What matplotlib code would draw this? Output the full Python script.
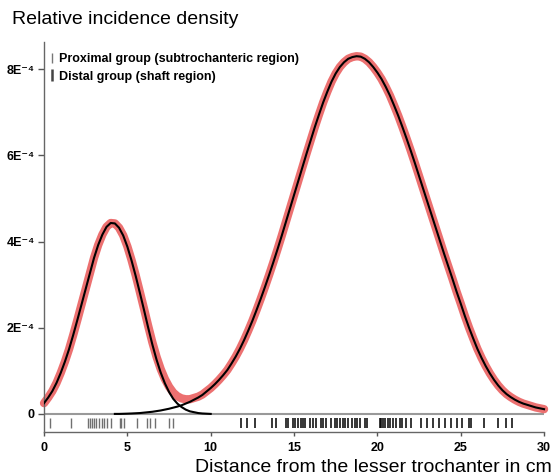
import matplotlib
matplotlib.use("Agg")
import matplotlib.pyplot as plt
from matplotlib.lines import Line2D
import numpy as np

plt.rcParams['font.family'] = ['Liberation Sans', 'DejaVu Sans']

# distance grid (cm) and densities, in units of 1E-4
dist_cm = [0.0, 0.25, 0.5, 0.75, 1.0, 1.25, 1.5, 1.75,
           2.0, 2.25, 2.5, 2.75, 3.0, 3.25, 3.5, 3.75,
           4.0, 4.25, 4.5, 4.75, 5.0, 5.25, 5.5, 5.75,
           6.0, 6.25, 6.5, 6.75, 7.0, 7.25, 7.5, 7.75,
           8.0, 8.25, 8.5, 8.75, 9.0, 9.25, 9.5, 9.75,
           10.0, 10.25, 10.5, 10.75, 11.0, 11.25, 11.5, 11.75,
           12.0, 12.25, 12.5, 12.75, 13.0, 13.25, 13.5, 13.75,
           14.0, 14.25, 14.5, 14.75, 15.0, 15.25, 15.5, 15.75,
           16.0, 16.25, 16.5, 16.75, 17.0, 17.25, 17.5, 17.75,
           18.0, 18.25, 18.5, 18.75, 19.0, 19.25, 19.5, 19.75,
           20.0, 20.25, 20.5, 20.75, 21.0, 21.25, 21.5, 21.75,
           22.0, 22.25, 22.5, 22.75, 23.0, 23.25, 23.5, 23.75,
           24.0, 24.25, 24.5, 24.75, 25.0, 25.25, 25.5, 25.75,
           26.0, 26.25, 26.5, 26.75, 27.0, 27.25, 27.5, 27.75,
           28.0, 28.25, 28.5, 28.75, 29.0, 29.25, 29.5, 29.75,
           30.0]

proximal_density = [0.25, 0.38, 0.53, 0.72, 0.95, 1.21, 1.50, 1.83,
                    2.18, 2.54, 2.90, 3.26, 3.62, 3.92, 4.16, 4.34,
                    4.43, 4.42, 4.32, 4.14, 3.88, 3.56, 3.20, 2.81,
                    2.41, 2.00, 1.61, 1.26, 0.96, 0.71, 0.51, 0.35,
                    0.24, 0.16, 0.10, 0.06, 0.04, 0.02, 0.01, 0.005,
                    0.0, 0.0, 0.0, 0.0, 0.0, 0.0, 0.0, 0.0,
                    0.0, 0.0, 0.0, 0.0, 0.0, 0.0, 0.0, 0.0,
                    0.0, 0.0, 0.0, 0.0, 0.0, 0.0, 0.0, 0.0,
                    0.0, 0.0, 0.0, 0.0, 0.0, 0.0, 0.0, 0.0,
                    0.0, 0.0, 0.0, 0.0, 0.0, 0.0, 0.0, 0.0,
                    0.0, 0.0, 0.0, 0.0, 0.0, 0.0, 0.0, 0.0,
                    0.0, 0.0, 0.0, 0.0, 0.0, 0.0, 0.0, 0.0,
                    0.0, 0.0, 0.0, 0.0, 0.0, 0.0, 0.0, 0.0,
                    0.0, 0.0, 0.0, 0.0, 0.0, 0.0, 0.0, 0.0,
                    0.0, 0.0, 0.0, 0.0, 0.0, 0.0, 0.0, 0.0,
                    0.0]

distal_density = [0.0, 0.0, 0.0, 0.0, 0.0, 0.0, 0.0, 0.0,
                  0.0, 0.0, 0.0, 0.0, 0.0, 0.0, 0.0, 0.0,
                  0.0, 0.0, 0.0, 0.003, 0.006, 0.01, 0.015, 0.02,
                  0.03, 0.04, 0.05, 0.065, 0.08, 0.10, 0.12, 0.145,
                  0.17, 0.20, 0.24, 0.28, 0.33, 0.38, 0.44, 0.52,
                  0.60, 0.69, 0.79, 0.90, 1.02, 1.17, 1.33, 1.51,
                  1.71, 1.93, 2.16, 2.41, 2.67, 2.94, 3.22, 3.51,
                  3.81, 4.12, 4.44, 4.76, 5.08, 5.40, 5.72, 6.04,
                  6.35, 6.66, 6.95, 7.23, 7.48, 7.71, 7.90, 8.05,
                  8.16, 8.24, 8.28, 8.30, 8.29, 8.24, 8.16, 8.05,
                  7.92, 7.77, 7.59, 7.39, 7.16, 6.92, 6.66, 6.39,
                  6.11, 5.82, 5.52, 5.22, 4.92, 4.62, 4.32, 4.02,
                  3.72, 3.43, 3.14, 2.84, 2.56, 2.27, 2.00, 1.75,
                  1.51, 1.30, 1.11, 0.94, 0.79, 0.66, 0.55, 0.46,
                  0.39, 0.33, 0.28, 0.24, 0.21, 0.18, 0.15, 0.13,
                  0.11]

# individual cases (rug)
proximal_cases = [0.36, 1.6, 2.64, 2.74, 2.88, 3.0, 3.14, 3.3, 3.48, 3.58,
                  3.8, 4.04, 4.54, 4.64, 4.78, 5.56, 6.18, 6.38, 6.64, 7.5,
                  7.74]
distal_cases = [11.84, 12.2, 12.64, 13.68, 13.94, 14.54, 14.64, 14.94, 15.08,
                15.24, 15.4, 15.54, 15.68, 15.94, 16.14, 16.34, 16.6, 16.74,
                16.94, 17.24, 17.44, 17.6, 17.78, 17.92, 18.04, 18.24, 18.48,
                18.64, 18.8, 18.94, 19.24, 19.4, 20.14, 20.24, 20.34, 20.44,
                20.64, 20.78, 20.94, 21.14, 21.34, 21.5, 21.7, 22.04, 22.64,
                22.98, 23.34, 23.72, 24.08, 24.44, 24.78, 25.1, 25.5, 25.64,
                26.4, 27.24, 27.7, 28.1]

xticks = [0, 5, 10, 15, 20, 25, 30]
yticks = [0, 2, 4, 6, 8]
ytick_labels = ['0', '2E⁻⁴', '4E⁻⁴', '6E⁻⁴', '8E⁻⁴']
legend_labels = ['Proximal group (subtrochanteric region)',
                 'Distal group (shaft region)']

x = np.array(dist_cm)
prox = np.array(proximal_density)
dist = np.array(distal_density)
total = prox + dist

fig = plt.figure(figsize=(5.58, 4.76), dpi=100)
ax = fig.add_axes([0.0789, 0.0924, 0.8961, 0.8194])

# mixture density
ax.plot(x, total, color='#ec7070', lw=6, solid_capstyle='round',
        solid_joinstyle='round', clip_on=False, zorder=2)
# components
m_p = x <= 10
m_d = x >= 4.25
ax.plot(x[m_p], prox[m_p], color='black', lw=1.5, zorder=3)
ax.plot(x[m_d], dist[m_d], color='black', lw=1.5, zorder=3, clip_on=False)

ax.axhline(0, color='#999999', lw=1.5, zorder=1)

# rug
ax.vlines(proximal_cases, -0.32, -0.09, color='#707070', lw=1.0)
ax.vlines(distal_cases, -0.32, -0.09, color='black', lw=1.1)

ax.set_xlim(0, 30)
ax.set_ylim(-0.42, 8.63)
ax.set_xticks(xticks)
ax.set_yticks(yticks, ytick_labels)
for s in ['top', 'right']:
    ax.spines[s].set_visible(False)
for s in ['left', 'bottom']:
    ax.spines[s].set_color('#666666')
    ax.spines[s].set_linewidth(1.0)
ax.tick_params(width=1, color='#555555', labelsize=9)
ax.tick_params(axis='x', length=3.2, pad=4)
ax.tick_params(axis='y', length=4.5, pad=2)
for lab in ax.get_xticklabels() + ax.get_yticklabels():
    lab.set_fontweight('bold')
ax.yaxis.get_major_ticks()[0].tick1line.set_color('#999999')

handles = [Line2D([], [], marker='|', ls='none', color='#777777',
                  markersize=7.5, mew=1.0),
           Line2D([], [], marker='|', ls='none', color='#444444',
                  markersize=8.5, mew=1.8)]
ax.legend(handles, legend_labels, loc='upper left',
          bbox_to_anchor=(48.9 / 558, 1 - 53 / 476),
          bbox_transform=fig.transFigure, frameon=False,
          prop={'size': 9, 'weight': 'bold'}, handlelength=0.5,
          handletextpad=0.27, labelspacing=0.45, borderaxespad=0,
          borderpad=0)

fig.text(12 / 558, 1 - 19 / 476, 'Relative incidence density',
         fontsize=14, ha='left', va='center')
fig.text(552 / 558, 1 - 467 / 476, 'Distance from the lesser trochanter in cm',
         fontsize=14, ha='right', va='center')

fig.savefig('out.png', dpi=100)
